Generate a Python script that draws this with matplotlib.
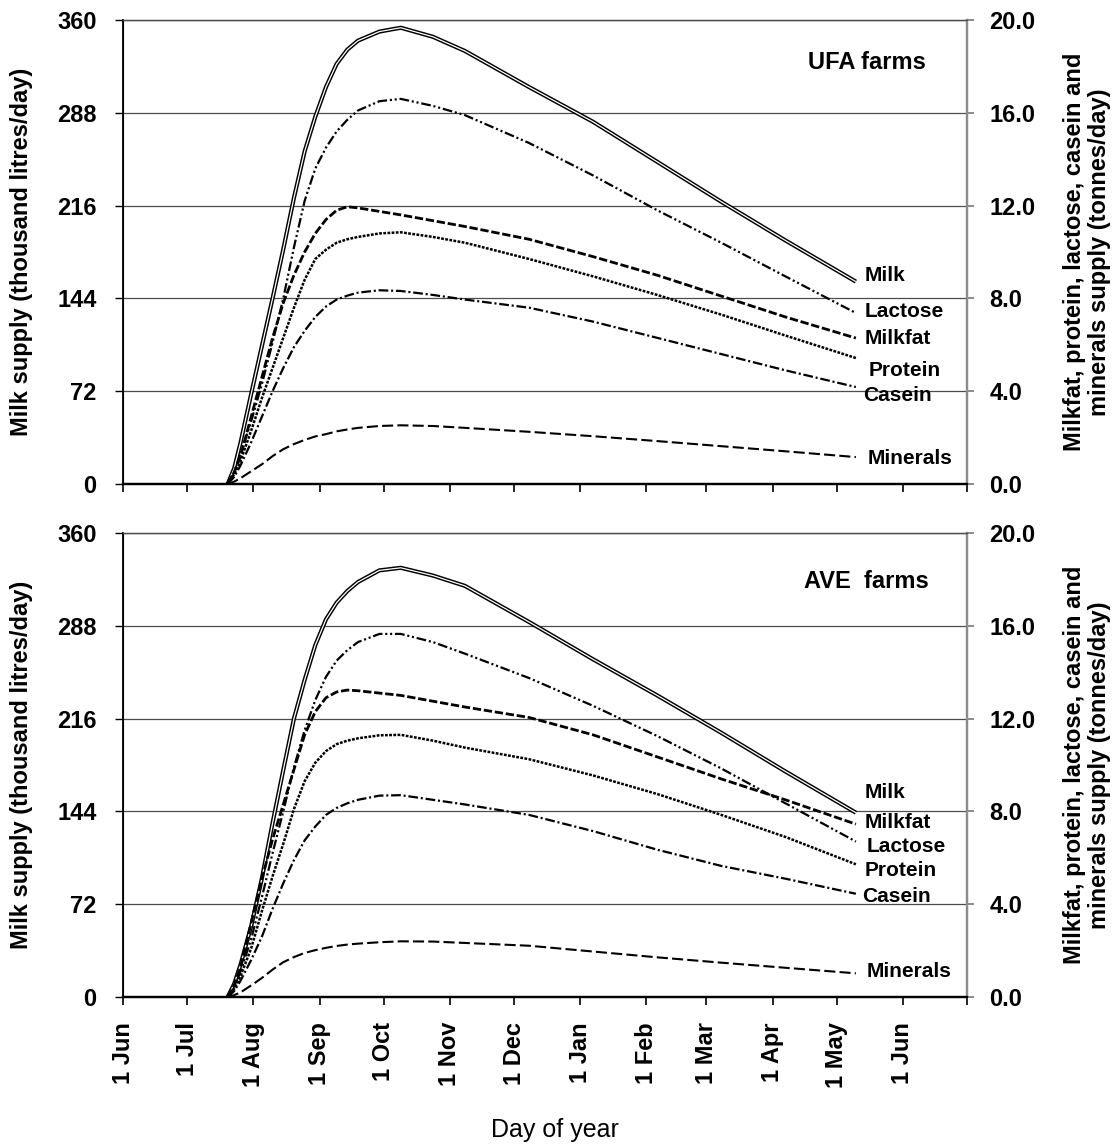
import matplotlib
matplotlib.use("Agg")
import matplotlib.pyplot as plt
import matplotlib.patheffects as pe

plt.rcParams['font.family'] = ['Liberation Sans', 'DejaVu Sans']
plt.rcParams['lines.scale_dashes'] = False

# days counted from 1 June
days = [49, 52, 55, 60, 65, 70, 75, 80, 85, 90, 95, 100, 105, 110, 120, 130,
        145, 160, 190, 220, 250, 280, 310, 343]

# UFA farms: milk in thousand litres/day, components in tonnes/day
ufa_milk = [0, 12, 32, 70, 107, 144, 182, 222, 258, 285, 308, 326, 337, 344,
            351, 354, 347, 336, 308, 281, 250, 219, 189, 157]
ufa_lactose = [0, 0.5, 1.3, 2.7, 4.3, 6.1, 8.0, 10.2, 12.2, 13.6, 14.5, 15.2,
               15.7, 16.1, 16.5, 16.6, 16.3, 15.9, 14.7, 13.3, 11.8, 10.4, 8.95, 7.37]
ufa_milkfat = [0, 0.5, 1.2, 2.9, 4.6, 6.3, 7.8, 9.0, 10.0, 10.8, 11.4, 11.8,
               11.95, 11.9, 11.75, 11.6, 11.35, 11.1, 10.55, 9.8, 9.0, 8.1, 7.2, 6.29]
ufa_protein = [0, 0.4, 1.0, 2.3, 3.7, 5.0, 6.3, 7.6, 8.8, 9.7, 10.1, 10.4,
               10.55, 10.65, 10.8, 10.85, 10.65, 10.4, 9.7, 8.95, 8.15, 7.3, 6.4, 5.43]
ufa_casein = [0, 0.3, 0.8, 1.8, 2.9, 4.0, 5.0, 5.9, 6.6, 7.2, 7.65, 7.95,
              8.12, 8.25, 8.35, 8.32, 8.15, 7.95, 7.6, 7.0, 6.3, 5.6, 4.9, 4.18]
ufa_minerals = [0, 0.1, 0.25, 0.55, 0.85, 1.2, 1.5, 1.72, 1.9, 2.05, 2.15, 2.27,
                2.35, 2.42, 2.5, 2.53, 2.5, 2.42, 2.25, 2.06, 1.85, 1.63, 1.41, 1.16]

# AVE farms
ave_milk = [0, 10, 25, 55, 92, 135, 176, 216, 246, 273, 293, 306, 315, 322,
            331, 333, 327, 319, 291, 262, 234, 205, 175, 143]
ave_lactose = [0, 0.4, 1.1, 2.5, 4.3, 6.2, 8.0, 9.9, 11.5, 12.8, 13.8, 14.5,
               14.95, 15.3, 15.65, 15.65, 15.3, 14.8, 13.75, 12.55, 11.25, 9.85, 8.35, 6.7]
ave_milkfat = [0, 0.5, 1.3, 3.2, 5.1, 6.8, 8.3, 9.8, 11.3, 12.3, 12.9, 13.15,
               13.23, 13.2, 13.1, 13.0, 12.75, 12.5, 12.05, 11.3, 10.35, 9.4, 8.5, 7.45]
ave_protein = [0, 0.35, 0.9, 2.1, 3.7, 5.2, 6.6, 8.1, 9.3, 10.1, 10.6, 10.9,
               11.05, 11.15, 11.28, 11.3, 11.05, 10.75, 10.25, 9.55, 8.75, 7.85, 6.9, 5.72]
ave_casein = [0, 0.25, 0.7, 1.6, 2.6, 3.8, 4.9, 5.9, 6.75, 7.35, 7.85, 8.15,
              8.35, 8.5, 8.68, 8.7, 8.5, 8.3, 7.85, 7.15, 6.35, 5.65, 5.1, 4.45]
ave_minerals = [0, 0.08, 0.2, 0.5, 0.82, 1.18, 1.5, 1.72, 1.9, 2.02, 2.12, 2.2,
                2.26, 2.3, 2.36, 2.4, 2.39, 2.33, 2.21, 1.96, 1.71, 1.48, 1.26, 1.02]

month_days = [0, 30, 61, 92, 122, 153, 183, 214, 245, 273, 304, 334, 365, 395]
month_labels = ['1 Jun', '1 Jul', '1 Aug', '1 Sep', '1 Oct', '1 Nov', '1 Dec',
                '1 Jan', '1 Feb', '1 Mar', '1 Apr', '1 May', '1 Jun', '']

milk_ticks = [0, 72, 144, 216, 288, 360]
comp_ticks = [0, 4, 8, 12, 16, 20]

# label positions (day, thousand litres) for each panel
ufa_labels = [('Milk', 347, 162), ('Lactose', 347, 134), ('Milkfat', 347, 112.5),
              ('Protein', 349, 87.7), ('Casein', 346.5, 68.3), ('Minerals', 348.5, 19.4)]
ave_labels = [('Milk', 347, 158.3), ('Milkfat', 347, 135), ('Lactose', 348, 116.4),
              ('Protein', 347, 97.8), ('Casein', 346, 77.6), ('Minerals', 348, 19.4)]

styles = {
    'lactose': dict(dashes=(7, 2, 1.5, 2, 1.5, 2), lw=1.6),
    'milkfat': dict(dashes=(6, 2), lw=2.0),
    'protein': dict(dashes=(2, 1), lw=1.8),
    'casein': dict(dashes=(7, 2, 1.5, 2), lw=1.6),
    'minerals': dict(dashes=(8, 3), lw=1.5),
}

fig = plt.figure(figsize=(11.18, 11.47), dpi=100)
W, H = 1118, 1147
left, right = 123 / W, 967 / W
panels = [(20, 484), (533, 997)]


def draw_panel(ax, milk, comps, labels, title, show_xlabels):
    ax2 = ax.twinx()
    ax.set_xlim(0, 395)
    ax.set_ylim(0, 360)
    ax2.set_ylim(0, 20)
    ax.set_yticks(milk_ticks)
    ax2.set_yticks(comp_ticks)
    ax2.set_yticklabels(['%.1f' % t for t in comp_ticks])
    ax.set_xticks(month_days)
    if show_xlabels:
        ax.set_xticklabels(month_labels, rotation=90, fontweight='bold',
                           fontsize=17, va='top')
    else:
        ax.set_xticklabels([])
    ax.grid(axis='y', color='#4d4d4d', lw=0.9)
    ax.set_axisbelow(True)
    for lab in ax.get_yticklabels() + ax2.get_yticklabels():
        lab.set_fontweight('bold')
        lab.set_fontsize(17)
    ax.tick_params(axis='y', direction='out', length=6, width=1, pad=13)
    ax.tick_params(axis='x', direction='out', length=6, width=1.2, pad=12)
    ax2.tick_params(axis='y', direction='out', length=5, width=1.4,
                    color='#8c8c8c', pad=11)
    ax.spines['left'].set_linewidth(1.3)
    ax.spines['bottom'].set_linewidth(1.6)
    ax2.spines['bottom'].set_linewidth(1.6)
    for a in (ax, ax2):
        a.spines['top'].set_color('#4d4d4d')
        a.spines['top'].set_linewidth(0.9)
        a.spines['right'].set_color('#8c8c8c')
        a.spines['right'].set_linewidth(1.6)

    # milk drawn as a double line
    ax.plot(days, milk, color='white', lw=0.9, solid_capstyle='butt',
            path_effects=[pe.Stroke(linewidth=3.0, foreground='black'), pe.Normal()])
    for key, vals in comps:
        st = styles[key]
        ax2.plot(days, vals, color='black', lw=st['lw'], dashes=st['dashes'])

    for name, x, y in labels:
        ax.text(x, y, name, fontsize=15, fontweight='bold', ha='left', va='center')
    ax.text(348, title[1], title[0], fontsize=17, fontweight='bold',
            ha='center', va='center')
    return ax2


for i, (top, bot) in enumerate(panels):
    ax = fig.add_axes([left, 1 - bot / H, right - left, (bot - top) / H])
    if i == 0:
        comps = [('lactose', ufa_lactose), ('milkfat', ufa_milkfat),
                 ('protein', ufa_protein), ('casein', ufa_casein),
                 ('minerals', ufa_minerals)]
        draw_panel(ax, ufa_milk, comps, ufa_labels, ('UFA farms', 327), False)
    else:
        comps = [('lactose', ave_lactose), ('milkfat', ave_milkfat),
                 ('protein', ave_protein), ('casein', ave_casein),
                 ('minerals', ave_minerals)]
        draw_panel(ax, ave_milk, comps, ave_labels, ('AVE  farms', 322), True)
    yc = 1 - (top + bot) / 2 / H
    fig.text(22 / W, yc, 'Milk supply (thousand litres/day)', rotation=90,
             fontsize=17, fontweight='bold', ha='center', va='center')
    fig.text(1087 / W, yc, 'Milkfat, protein, lactose, casein and\nminerals supply (tonnes/day)',
             rotation=90, fontsize=17, fontweight='bold', ha='center', va='center',
             multialignment='center', linespacing=1.12)

fig.text(555 / W, 1 - 1130 / H, 'Day of year', fontsize=18, ha='center', va='center')

fig.savefig('out.png', dpi=100)
